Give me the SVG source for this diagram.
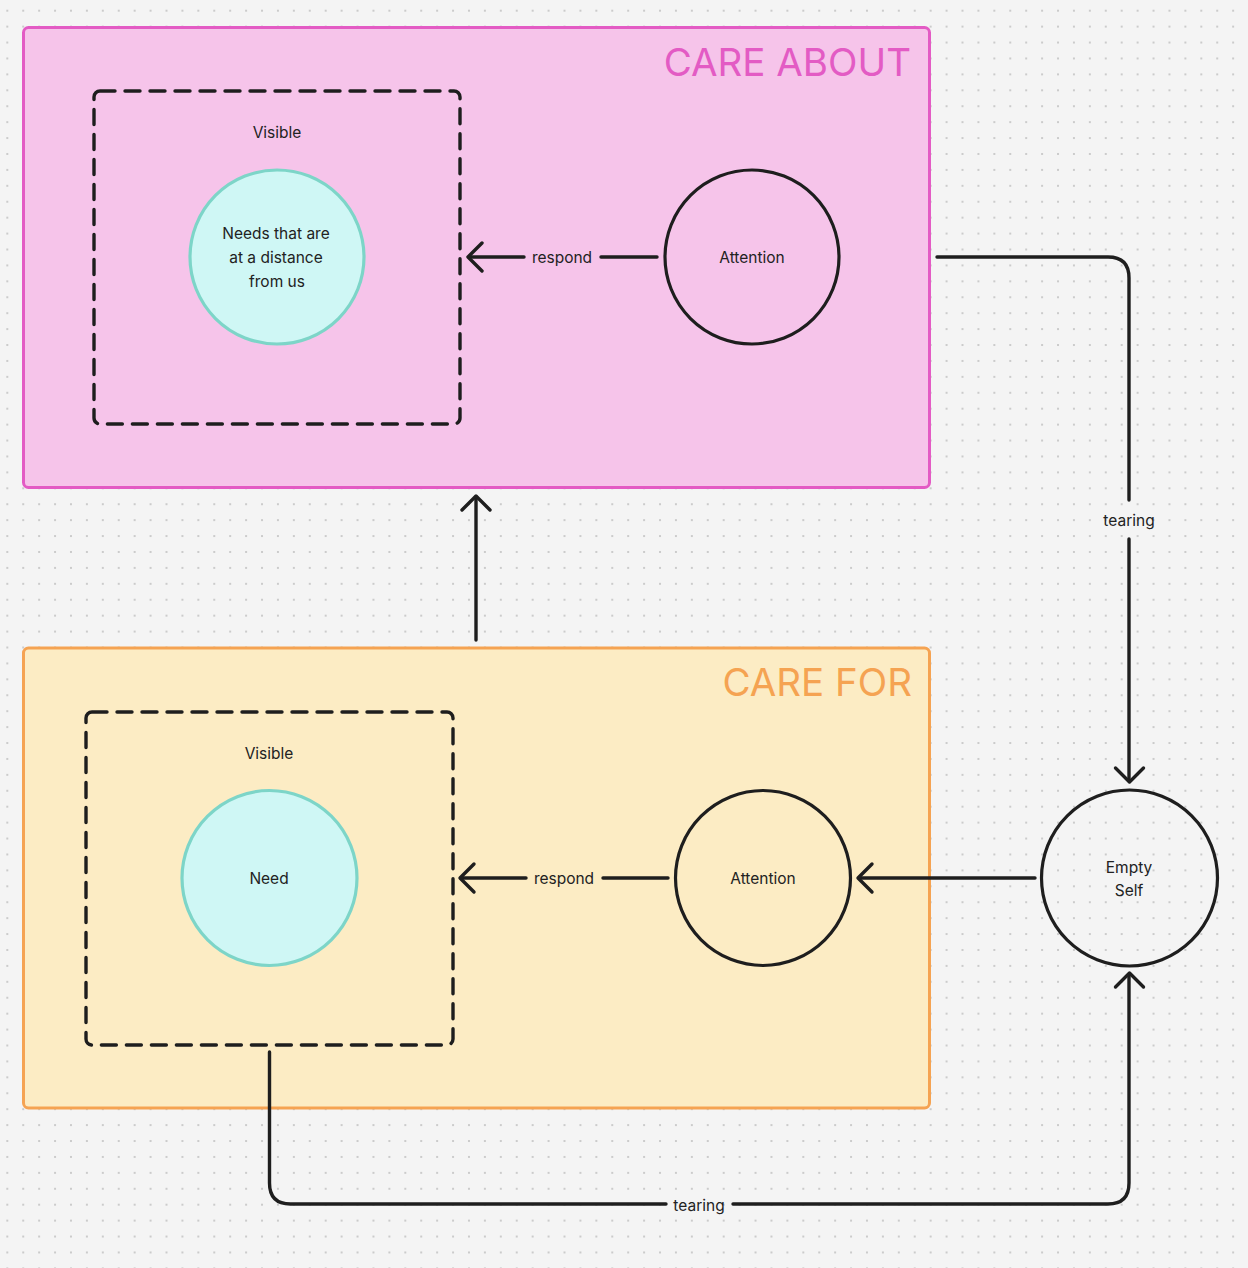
<svg xmlns="http://www.w3.org/2000/svg" width="1248" height="1268" viewBox="0 0 1248 1268">
  <defs>
    <pattern id="dots" x="7.3" y="10.7" width="15.92" height="15.92" patternUnits="userSpaceOnUse">
      <circle cx="0" cy="0" r="1" fill="#bdbdbd"/>
      <circle cx="15.92" cy="0" r="1" fill="#bdbdbd"/>
      <circle cx="0" cy="15.92" r="1" fill="#bdbdbd"/>
      <circle cx="15.92" cy="15.92" r="1" fill="#bdbdbd"/>
    </pattern>
    <style>
      .lbl { font-family: Inter, "Liberation Sans", sans-serif; font-size: 15.5px; fill: #222222; text-anchor: middle; dominant-baseline: central; }
      .title { font-family: Inter, "Liberation Sans", sans-serif; font-size: 38.5px; text-anchor: end; }
      .dash { fill: none; stroke: #1e1e1e; stroke-width: 3.4; stroke-dasharray: 15 10; stroke-linecap: round; }
      .need { fill: #cff7f5; stroke: #7dd5c8; stroke-width: 3.2; }
      .ring { fill: none; stroke: #1e1e1e; stroke-width: 3.2; }
      .conn { fill: none; stroke: #1e1e1e; stroke-width: 3.4; stroke-linecap: round; stroke-linejoin: round; }
    </style>
  </defs>

  <rect width="1248" height="1268" fill="#f4f4f4"/>
  <rect width="1248" height="1268" fill="url(#dots)"/>

  <g id="care-about">
    <rect x="23.5" y="27.5" width="906" height="460" rx="5" fill="#f6c4ea" stroke="#e35bc4" stroke-width="3"/>
    <text class="title" x="911" y="76" fill="#e35bc4">CARE ABOUT</text>
  </g>

  <g id="care-for">
    <rect x="23.5" y="648" width="906" height="460" rx="5" fill="#fcecc4" stroke="#f5a352" stroke-width="3"/>
    <text class="title" x="912" y="696" fill="#f5a352">CARE FOR</text>
  </g>

  <g id="visible-top">
    <rect x="94" y="91" width="366" height="333" rx="6" class="dash"/>
    <text class="lbl" x="277" y="132">Visible</text>
  </g>

  <g id="needs-distance">
    <circle cx="277" cy="257" r="87" class="need"/>
    <text class="lbl" x="276" y="233">Needs that are</text>
    <text class="lbl" x="276" y="257">at a distance</text>
    <text class="lbl" x="277" y="281">from us</text>
  </g>

  <g id="attention-top">
    <circle cx="752" cy="257" r="87" class="ring"/>
    <text class="lbl" x="752" y="257">Attention</text>
  </g>

  <g id="visible-bottom">
    <rect x="86" y="712" width="367" height="333" rx="6" class="dash"/>
    <text class="lbl" x="269" y="753">Visible</text>
  </g>

  <g id="need">
    <circle cx="269.5" cy="878" r="87.5" class="need"/>
    <text class="lbl" x="269" y="878">Need</text>
  </g>

  <g id="attention-bottom">
    <circle cx="763" cy="878" r="87.5" class="ring"/>
    <text class="lbl" x="763" y="878">Attention</text>
  </g>

  <g id="empty-self">
    <circle cx="1129.5" cy="878" r="88" class="ring"/>
    <text class="lbl" x="1129" y="867">Empty</text>
    <text class="lbl" x="1129" y="890">Self</text>
  </g>

  <g id="connectors">
    <path class="conn" d="M657 257 H601"/>
    <path class="conn" d="M524 257 H470"/>
    <path class="conn" d="M482 243 L468 257 L482 271"/>
    <text class="lbl" x="562" y="257">respond</text>

    <path class="conn" d="M668 878 H603"/>
    <path class="conn" d="M526 878 H461"/>
    <path class="conn" d="M474 864 L460 878 L474 892"/>
    <text class="lbl" x="564" y="878">respond</text>

    <path class="conn" d="M1035 878 H860"/>
    <path class="conn" d="M872 864 L858 878 L872 892"/>

    <path class="conn" d="M476 640 V497"/>
    <path class="conn" d="M462 510 L476 496 L490 510"/>

    <path class="conn" d="M937 257 H1108 Q1129 257 1129 278 V500"/>
    <path class="conn" d="M1129 539 V781"/>
    <path class="conn" d="M1115.5 768 L1129.5 782 L1143.5 768"/>
    <text class="lbl" x="1129" y="520">tearing</text>

    <path class="conn" d="M269.5 1052 V1183 Q269.5 1204 290.5 1204 H666"/>
    <path class="conn" d="M733 1204 H1108 Q1129 1204 1129 1183 V975"/>
    <path class="conn" d="M1115.5 987 L1129.5 973 L1143.5 987"/>
    <text class="lbl" x="699" y="1205">tearing</text>
  </g>
</svg>
